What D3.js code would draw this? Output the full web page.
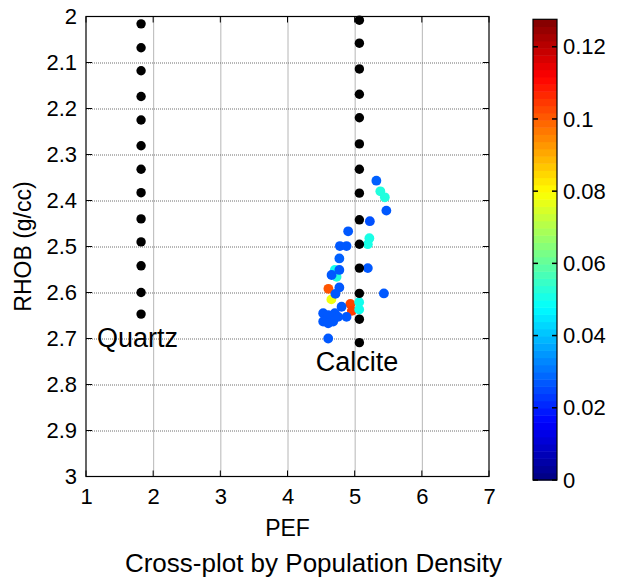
<!DOCTYPE html>
<html><head><meta charset="utf-8">
<script src="https://cdn.jsdelivr.net/npm/d3@7/dist/d3.min.js"></script>
<style>
body { margin: 0; background: #fff; }
text { font-family: "Liberation Sans", Arial, sans-serif; fill: #000; }
</style>
</head><body><div id="main"></div>
<script>
// mineral lines (black dots)
let quartzPef = 1.82;
let quartzRhob = [2.016, 2.068, 2.118, 2.174, 2.225, 2.281, 2.332, 2.383, 2.440, 2.490, 2.542, 2.600, 2.647];
let calcitePef = 5.07;
let calciteRhob = [2.008, 2.058, 2.114, 2.169, 2.220, 2.277, 2.332, 2.384, 2.442, 2.495, 2.547, 2.602, 2.658, 2.709];

// log samples coloured by population density
let samplePef = [4.609, 4.936, 4.958, 4.653,
  5.382, 5.449, 5.219, 5.196, 4.705, 4.731, 5.067, 5.067,
  5.323, 5.472, 5.226, 4.903, 4.780, 4.879, 4.772, 4.772, 4.656, 5.196, 4.772, 4.713,
  5.435, 4.805, 4.531, 4.606, 4.705, 4.531, 4.680, 4.754, 4.879, 4.606, 4.606];
let sampleRhob = [2.592, 2.625, 2.640, 2.615,
  2.380, 2.393, 2.482, 2.495, 2.551, 2.566, 2.621, 2.637,
  2.357, 2.422, 2.445, 2.467, 2.499, 2.499, 2.526, 2.551, 2.562, 2.547, 2.589, 2.603,
  2.602, 2.631, 2.645, 2.649, 2.645, 2.663, 2.663, 2.653, 2.653, 2.667, 2.700];
let sampleDensity = [0.101, 0.103, 0.104, 0.078,
  0.052, 0.052, 0.051, 0.051, 0.050, 0.052, 0.050, 0.050,
  0.028, 0.027, 0.026, 0.027, 0.027, 0.027, 0.028, 0.027, 0.027, 0.027, 0.027, 0.027,
  0.027, 0.027, 0.027, 0.027, 0.027, 0.027, 0.027, 0.027, 0.027, 0.027, 0.027];

let xTicks = [1, 2, 3, 4, 5, 6, 7];
let yTicks = [2, 2.1, 2.2, 2.3, 2.4, 2.5, 2.6, 2.7, 2.8, 2.9, 3];
let cbTicks = [0, 0.02, 0.04, 0.06, 0.08, 0.1, 0.12];
let cbMax = 0.1276;

let width = 627;
let height = 588;
let svg = d3.select('#main').append('svg').attr('width', width).attr('height', height);

let x = d3.scaleLinear().domain([1, 7]).range([86, 489]);
let y = d3.scaleLinear().domain([2, 3]).range([16.5, 476.5]);

// matlab style jet
function jet(t) {
  let c = v => Math.round(255 * Math.max(0, Math.min(1, v)));
  return d3.rgb(c(1.5 - Math.abs(4 * t - 3)), c(1.5 - Math.abs(4 * t - 2)), c(1.5 - Math.abs(4 * t - 1))).toString();
}
let color = v => jet(v / cbMax);

// grid
let grid = svg.append('g').attr('stroke', '#6e6e6e').attr('stroke-dasharray', '1,1');
grid.selectAll('.gx').data(xTicks.slice(1, -1)).enter().append('line')
  .attr('x1', d => x(d) + 0.5).attr('x2', d => x(d) + 0.5).attr('y1', y(2)).attr('y2', y(3));
grid.selectAll('.gy').data(yTicks.slice(1, -1)).enter().append('line')
  .attr('y1', d => y(d) + 0.5).attr('y2', d => y(d) + 0.5).attr('x1', x(1)).attr('x2', x(7));

// inward ticks on all sides
let tl = 6;
let ticks = svg.append('g').attr('stroke', '#000');
xTicks.forEach(function(d) {
  ticks.append('line').attr('x1', x(d)).attr('x2', x(d)).attr('y1', y(3)).attr('y2', y(3) - tl);
  ticks.append('line').attr('x1', x(d)).attr('x2', x(d)).attr('y1', y(2)).attr('y2', y(2) + tl);
});
yTicks.forEach(function(d) {
  ticks.append('line').attr('y1', y(d)).attr('y2', y(d)).attr('x1', x(1)).attr('x2', x(1) + tl);
  ticks.append('line').attr('y1', y(d)).attr('y2', y(d)).attr('x1', x(7)).attr('x2', x(7) - tl);
});

// axes labels via d3 axes
let xAxis = svg.append('g').attr('transform', 'translate(0,' + y(3) + ')')
  .call(d3.axisBottom(x).tickValues(xTicks).tickSize(0).tickPadding(12).tickFormat(d3.format('d')));
let yAxis = svg.append('g').attr('transform', 'translate(' + x(1) + ',0)')
  .call(d3.axisLeft(y).tickValues(yTicks).tickSize(0).tickPadding(9).tickFormat(d => String(+d.toFixed(1))));
[xAxis, yAxis].forEach(function(a) {
  a.select('.domain').remove();
  a.selectAll('text').attr('font-size', 22).attr('font-family', null).attr('fill', '#000');
});
xAxis.selectAll('text').attr('dy', '0.71em');

// scatter
svg.append('g').selectAll('circle').data(samplePef).enter().append('circle')
  .attr('cx', d => x(d)).attr('cy', (d, i) => y(sampleRhob[i])).attr('r', 4.9)
  .attr('fill', (d, i) => color(sampleDensity[i]));
svg.append('g').selectAll('circle').data(quartzRhob).enter().append('circle')
  .attr('cx', x(quartzPef)).attr('cy', d => y(d)).attr('r', 4.7).attr('fill', '#000');
svg.append('g').selectAll('circle').data(calciteRhob).enter().append('circle')
  .attr('cx', x(calcitePef)).attr('cy', d => y(d)).attr('r', 4.7).attr('fill', '#000');

// box
svg.append('rect').attr('x', x(1)).attr('y', y(2)).attr('width', x(7) - x(1)).attr('height', y(3) - y(2))
  .attr('fill', 'none').attr('stroke', '#000').attr('stroke-width', 1.2);

// mineral names
svg.append('text').attr('x', x(1.165)).attr('y', y(2.697)).attr('dy', '0.35em').attr('font-size', 27).text('Quartz');
svg.append('text').attr('x', x(4.42)).attr('y', y(2.75)).attr('dy', '0.35em').attr('font-size', 27).text('Calcite');

// axis titles
svg.append('text').attr('x', (x(1) + x(7)) / 2).attr('y', 536).attr('text-anchor', 'middle').attr('font-size', 23).text('PEF');
svg.append('text').attr('transform', 'translate(31,' + (y(2) + y(3)) / 2 + ') rotate(-90)')
  .attr('text-anchor', 'middle').attr('font-size', 23).text('RHOB (g/cc)');
svg.append('text').attr('x', width / 2).attr('y', 572).attr('text-anchor', 'middle').attr('font-size', 26)
  .text('Cross-plot by Population Density');

// colorbar
let cbX = 533, cbW = 24;
let cy = d3.scaleLinear().domain([0, cbMax]).range([480, 19.3]);
let bands = d3.range(64);
svg.append('g').selectAll('rect').data(bands).enter().append('rect')
  .attr('x', cbX).attr('width', cbW)
  .attr('y', d => cy((d + 1) / 64 * cbMax)).attr('height', d => cy(d / 64 * cbMax) - cy((d + 1) / 64 * cbMax) + 0.5)
  .attr('fill', d => jet((d + 0.5) / 64));
svg.append('rect').attr('x', cbX).attr('y', cy(cbMax)).attr('width', cbW).attr('height', cy(0) - cy(cbMax))
  .attr('fill', 'none').attr('stroke', '#000').attr('stroke-width', 1.2);
let cbt = svg.append('g');
cbTicks.forEach(function(d) {
  cbt.append('line').attr('x1', cbX).attr('x2', cbX + 5).attr('y1', cy(d)).attr('y2', cy(d)).attr('stroke', '#000').attr('stroke-width', 1.5);
  cbt.append('line').attr('x1', cbX + cbW).attr('x2', cbX + cbW - 5).attr('y1', cy(d)).attr('y2', cy(d)).attr('stroke', '#000').attr('stroke-width', 1.5);
  cbt.append('text').attr('x', cbX + cbW + 6).attr('y', cy(d)).attr('dy', '0.35em').attr('font-size', 22).text(String(d));
});
</script></body></html>
